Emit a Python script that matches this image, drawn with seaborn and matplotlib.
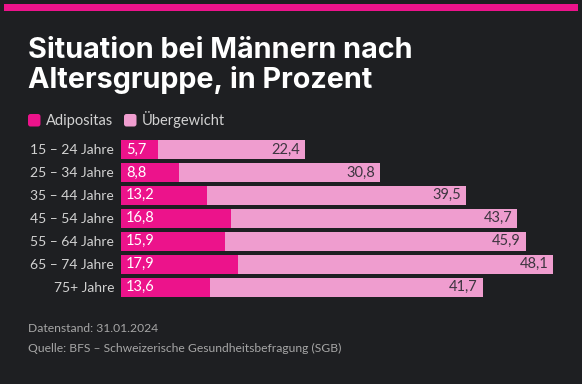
import numpy as np
import pandas as pd
import matplotlib.pyplot as plt
import seaborn as sns
from matplotlib.patches import Rectangle, FancyBboxPatch

# data
altersgruppen = ['15 – 24 Jahre', '25 – 34 Jahre', '35 – 44 Jahre', '45 – 54 Jahre',
                 '55 – 64 Jahre', '65 – 74 Jahre', '75+ Jahre']
adipositas = [5.7, 8.8, 13.2, 16.8, 15.9, 17.9, 13.6]
uebergewicht = [22.4, 30.8, 39.5, 43.7, 45.9, 48.1, 41.7]

bg = '#1e1f22'
magenta = '#ec138b'
pink = '#ef9dcf'

df = pd.DataFrame({'Altersgruppe': altersgruppen,
                   'Adipositas': adipositas,
                   'Übergewicht': uebergewicht})
# bars are stacked: pink part starts where the magenta part ends
df['Total'] = df['Adipositas'] + df['Übergewicht']

sns.set_theme(style='white')
plt.rcParams['font.family'] = ['Lato', 'DejaVu Sans']

W, H = 582, 384
fig = plt.figure(figsize=(W / 100, H / 100), dpi=100, facecolor=bg)
ax = fig.add_axes([121 / W, 1 - 298.5 / H, 432 / W, 160.5 / H])
ax.set_facecolor(bg)

sns.barplot(data=df, x='Total', y='Altersgruppe', color=pink, saturation=1,
            width=0.83, linewidth=0, ax=ax)
sns.barplot(data=df, x='Adipositas', y='Altersgruppe', color=magenta, saturation=1,
            width=0.83, linewidth=0, ax=ax)
ax.set_xlim(0, 66)
ax.set_ylim(6.5, -0.5)
ax.set_xticks([])
ax.set_xlabel('')
ax.set_ylabel('')
ax.tick_params(axis='y', length=0, pad=5, labelsize=10, labelcolor='#d2d2d2')
sns.despine(ax=ax, left=True, bottom=True)

# value labels
for i, row in df.iterrows():
    ax.text(0.75, i, f"{row['Adipositas']:.1f}".replace('.', ','), ha='left', va='center',
            color='white', fontsize=10.5)
    ax.text(row['Total'] - 0.75, i, f"{row['Übergewicht']:.1f}".replace('.', ','),
            ha='right', va='center', color='#3d3540', fontsize=10.5)

# top accent line
fig.patches.append(Rectangle((4 / W, 1 - 10.5 / H), 574 / W, 6.5 / H,
                             transform=fig.transFigure, color=magenta, lw=0))

# title
fig.text(28 / W, 1 - 57.5 / H, 'Situation bei Männern nach', family='Inter',
         weight='bold', fontsize=20.7, color='white', va='baseline')
fig.text(28 / W, 1 - 88 / H, 'Altersgruppe, in Prozent', family='Inter',
         weight='bold', fontsize=20.7, color='white', va='baseline')

# legend
for x0, name, col in [(28, 'Adipositas', magenta), (124, 'Übergewicht', pink)]:
    fig.patches.append(FancyBboxPatch((x0, H - 126.5), 12.5, 12.5,
                                      boxstyle='round,pad=0,rounding_size=2.5',
                                      transform=None, color=col, lw=0))
    fig.text((x0 + 18) / W, 1 - 125.5 / H, name, fontsize=10.5, color='#d2d2d2',
             va='baseline')

# footer
fig.text(28 / W, 1 - 331.5 / H, 'Datenstand: 31.01.2024', fontsize=8.7,
         color='#a6a6a6', va='baseline')
fig.text(28 / W, 1 - 351.5 / H, 'Quelle: BFS – Schweizerische Gesundheitsbefragung (SGB)',
         fontsize=8.7, color='#a6a6a6', va='baseline')

fig.savefig('out.png', dpi=100, facecolor=bg)
